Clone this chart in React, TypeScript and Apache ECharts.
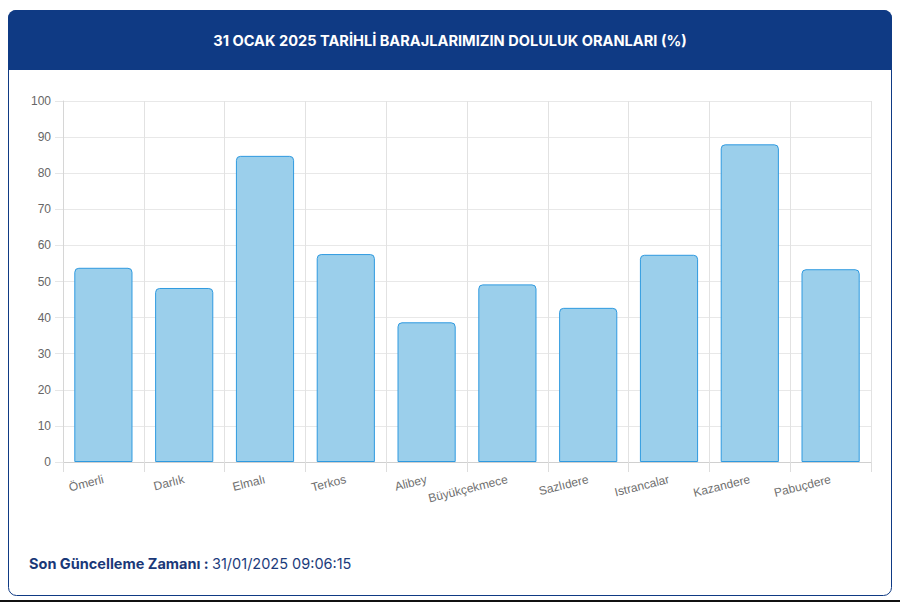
import React, { useEffect, useRef } from "react";
import * as echarts from "echarts";

const categories = [
  "Ömerli",
  "Darlık",
  "Elmalı",
  "Terkos",
  "Alibey",
  "Büyükçekmece",
  "Sazlıdere",
  "Istrancalar",
  "Kazandere",
  "Pabuçdere",
];
const fillRates = [53.8, 48.2, 84.8, 57.6, 38.7, 49.2, 42.7, 57.4, 88.0, 53.4];
const yTicks = [0, 10, 20, 30, 40, 50, 60, 70, 80, 90, 100];
const titleText = "31 OCAK 2025 TARİHLİ BARAJLARIMIZIN DOLULUK ORANLARI (%)";
const footerLabel = "Son Güncelleme Zamanı :";
const footerValue = "31/01/2025 09:06:15";

export default function App() {
  const ref = useRef<HTMLDivElement>(null);
  useEffect(() => {
    document.body.style.margin = "0";
    if (!ref.current) return;
    const chart = echarts.init(ref.current, undefined, { renderer: "svg" });
    const navy = "#0f3a84";
    chart.setOption({
      animation: false,
      backgroundColor: "#ffffff",
      graphic: [
        {
          type: "rect",
          z: -10,
          shape: { x: 8.5, y: 10.5, width: 883, height: 585, r: 8 },
          style: { fill: "#ffffff", stroke: navy, lineWidth: 1 },
        },
        {
          type: "rect",
          z: -9,
          shape: { x: 8, y: 10, width: 884, height: 60, r: [8, 8, 0, 0] },
          style: { fill: navy },
        },
        {
          type: "text",
          z: 10,
          x: 450,
          y: 41,
          style: {
            text: titleText,
            fill: "#ffffff",
            font: "bold 14.6px Inter, 'Noto Sans', sans-serif",
            align: "center",
            verticalAlign: "middle",
          },
        },
        {
          type: "text",
          z: 10,
          x: 29,
          y: 563,
          style: {
            text: "{b|" + footerLabel + "} {v|" + footerValue + "}",
            verticalAlign: "middle",
            rich: {
              b: {
                fontFamily: "Inter, 'Noto Sans', sans-serif",
                fontWeight: "bold",
                fontSize: 14.5,
                fill: "#1a3878",
              },
              v: {
                fontFamily: "Inter, 'Noto Sans', sans-serif",
                fontWeight: "normal",
                fontSize: 14.5,
                fill: "#1c3c7c",
              },
            },
          },
        },
        {
          type: "rect",
          z: 10,
          shape: { x: 0, y: 600, width: 900, height: 2 },
          style: { fill: "#111111" },
        },
      ],
      grid: { left: 63, right: 29, top: 101, bottom: 141, containLabel: false },
      xAxis: {
        type: "category",
        data: categories,
        boundaryGap: true,
        axisLine: { show: true, lineStyle: { color: "#d0d0d0", width: 1 } },
        axisTick: { show: true, length: 10, lineStyle: { color: "#dddddd" } },
        splitLine: { show: true, lineStyle: { color: "#e2e2e2", width: 1 } },
        axisLabel: {
          rotate: 14,
          margin: 17,
          color: "#6f6f6f",
          fontSize: 12,
          fontFamily: "'Liberation Sans', Arial, sans-serif",
          interval: 0,
        },
      },
      yAxis: {
        type: "value",
        min: yTicks[0],
        max: yTicks[yTicks.length - 1],
        interval: 10,
        axisLine: { show: true, lineStyle: { color: "#d6d6d6" } },
        axisTick: { show: true, length: 8, lineStyle: { color: "#e6e6e6" } },
        splitLine: { show: true, lineStyle: { color: "#e8e8e8", width: 1 } },
        axisLabel: {
          margin: 12,
          color: "#666666",
          fontSize: 12,
          fontFamily: "'Liberation Sans', Arial, sans-serif",
        },
      },
      series: [
        {
          type: "bar",
          data: fillRates,
          barCategoryGap: "28%",
          itemStyle: {
            color: "#9bcfeb",
            borderColor: "#2f9ae0",
            borderWidth: 1,
            borderRadius: [4, 4, 0, 0],
          },
        },
      ],
    });
    return () => chart.dispose();
  }, []);
  return (
    <div
      ref={ref}
      style={{ position: "fixed", left: 0, top: 0, width: 900, height: 603 }}
    />
  );
}
